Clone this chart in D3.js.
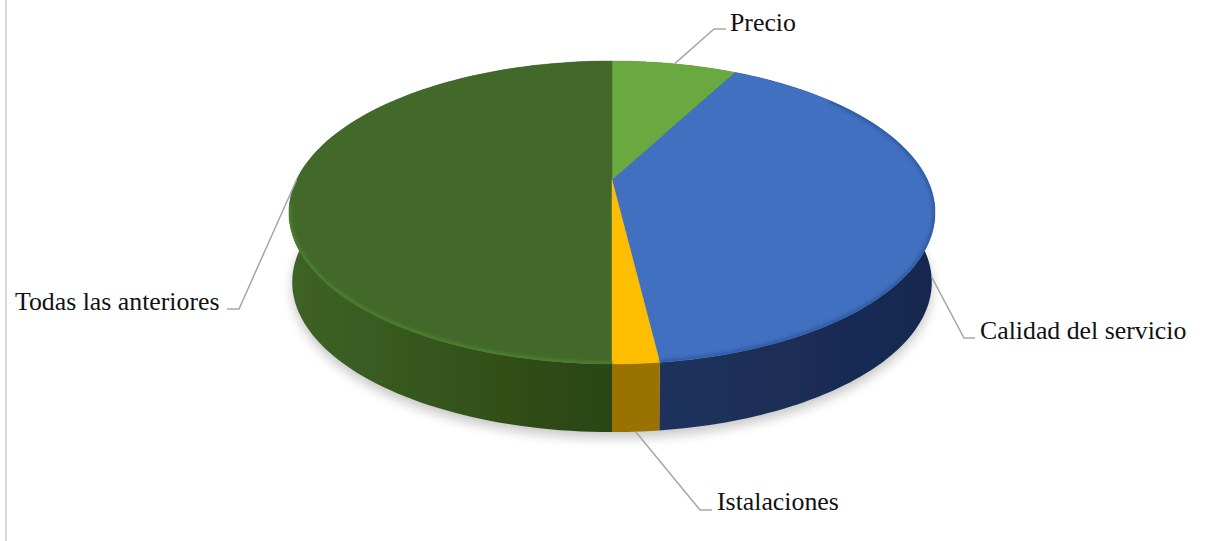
<!DOCTYPE html>
<html><head><meta charset="utf-8">
<script src="https://cdn.jsdelivr.net/npm/d3@7"></script>
<style>html,body{margin:0;padding:0;background:#fff;overflow:hidden}svg{display:block}</style>
</head><body><svg id="c" width="1225" height="541"></svg>
<script>
const categories = ["Precio", "Calidad del servicio", "Istalaciones", "Todas las anteriores"];
const values = [7.7, 40.4, 1.9, 50];
const topColors = ["#69a93f", "#406fbf", "#fdbd00", "#43682a"];
const lipColors = ["#69a93f", "#2f5da6", "#fdbd00", "#4a7f2e"];
const wallNear = ["#3c5f24", "#21345f", "#9a7200", "#2a4512"];
const wallFar = ["#3c5f24", "#16284f", "#9a7200", "#3d6325"];
const labelX = [730, 980, 717, 15];
const labelY = [31, 339, 510, 310];
const elbows = [[714, 29, 726, 29], [964, 338, 975, 338], [700, 510, 712, 510], [239, 309, 227, 309]];

const svg = d3.select("#c"), defs = svg.append("defs");
const f = (id, s) => defs.append("filter").attr("id", id).attr("x", "-10%").attr("y", "-10%").attr("width", "120%").attr("height", "130%")
  .append("feGaussianBlur").attr("stdDeviation", s);
f("soft", 0.6); f("lip", 1.8); f("shadow", 6);

const cx = 612, cy = 180, R = 315.5, B = 144.5, k = 0.2145, dy = 70, sb = 0.99;
const proj = (a, base) => {
  const u = Math.sin(a), v = -Math.cos(a), d = 1 - k * v, s = base ? sb : 1;
  return [cx + s * R * u / d, cy + (base ? dy : 0) + s * B * v / d];
};
const arcPts = (a0, a1, base) => d3.range(0, 121).map(i => proj(a0 + (a1 - a0) * i / 120, base));
const line = d3.line();
const arcs = d3.pie().sort(null)(values);
const wrap = svg.append("g").attr("filter", "url(#soft)");

svg.insert("rect", "g").attr("x", 5).attr("y", 0).attr("width", 2).attr("height", 541).attr("fill", "#d9d9d9");

defs.append("clipPath").attr("id", "face").append("path").attr("d", line(arcPts(0, 2 * Math.PI, false)) + "Z");

wrap.append("path").attr("d", line(arcPts(0, 2 * Math.PI, true)) + "Z")
  .attr("transform", "translate(0,6)").attr("fill", "#000").attr("opacity", 0.22).attr("filter", "url(#shadow)");

const order = [0, 3, 1, 2];
order.forEach(i => {
  const a = arcs[i], g = defs.append("linearGradient").attr("id", "w" + i).attr("gradientUnits", "userSpaceOnUse")
    .attr("x1", 612).attr("x2", i === 3 ? 290 : 930).attr("y1", 0).attr("y2", 0);
  g.append("stop").attr("offset", 0).attr("stop-color", wallNear[i]);
  g.append("stop").attr("offset", 1).attr("stop-color", wallFar[i]);
  wrap.append("path").attr("d", line(arcPts(a.startAngle, a.endAngle, false).concat(arcPts(a.endAngle, a.startAngle, true))) + "Z")
    .attr("fill", `url(#w${i})`);
});
order.forEach(i => {
  const a = arcs[i];
  wrap.append("path").attr("d", line([[cx, cy]].concat(arcPts(a.startAngle, a.endAngle, false))) + "Z")
    .attr("fill", topColors[i]).attr("stroke", topColors[i]).attr("stroke-width", 0.5);
});
const lips = wrap.append("g").attr("clip-path", "url(#face)");
[1, 3].forEach(i => {
  const a = arcs[i];
  lips.append("path").attr("d", line(arcPts(Math.max(a.startAngle, 0.9), Math.min(a.endAngle, 4.55), false)))
    .attr("fill", "none").attr("stroke", lipColors[i]).attr("stroke-width", 5).attr("filter", "url(#lip)");
});

const anchor = i => {
  const m = (arcs[i].startAngle + arcs[i].endAngle) / 2;
  return proj(m, i === 1 || i === 2);
};
categories.forEach((c, i) => {
  const e = elbows[i];
  svg.append("path").attr("d", line([anchor(i), [e[0], e[1]], [e[2], e[3]]]))
    .attr("fill", "none").attr("stroke", "#a6a6a6").attr("stroke-width", 1.5);
  svg.append("text").attr("x", labelX[i]).attr("y", labelY[i]).text(c)
    .attr("font-family", "'Liberation Serif'").attr("font-size", 25.8).attr("fill", "#111");
});
</script></body></html>
